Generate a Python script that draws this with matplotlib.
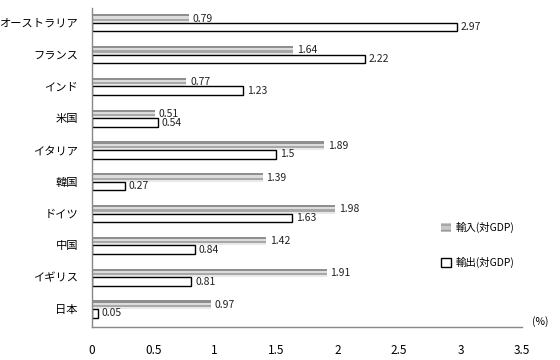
import numpy as np
import matplotlib.pyplot as plt
from matplotlib.patches import Patch

plt.rcParams['font.family'] = ['Noto Sans CJK JP', 'DejaVu Sans']

# donnees
pays = ['オーストラリア', 'フランス', 'インド', '米国', 'イタリア',
        '韓国', 'ドイツ', '中国', 'イギリス', '日本']
importations = [0.79, 1.64, 0.77, 0.51, 1.89, 1.39, 1.98, 1.42, 1.91, 0.97]
exportations = [2.97, 2.22, 1.23, 0.54, 1.5, 0.27, 1.63, 0.84, 0.81, 0.05]
ticks_x = [0, 0.5, 1, 1.5, 2, 2.5, 3, 3.5]

fig = plt.figure(figsize=(5.6, 3.6), dpi=100)
ax = fig.add_axes([0.164, 0.092, 0.768, 0.886])

y = np.arange(len(pays))
h = 0.27

# barres import : rayures grises
bandes = ['#8f8f8f', '#dcdcdc', '#a8a8a8', '#e8e8e8']
hb = h / len(bandes)
for k, col in enumerate(bandes):
    ax.barh(y - h + hb * (k + 0.5), importations, height=hb, color=col, linewidth=0)

# barres export : blanc contour noir
ax.barh(y + h / 2, exportations, height=h, facecolor='white', edgecolor='black', linewidth=1)

for i in range(len(pays)):
    ax.text(importations[i] + 0.03, y[i] - h / 2, str(importations[i]), va='center', ha='left', fontsize=7.5, color='#222222')
    ax.text(exportations[i] + 0.03, y[i] + h / 2, str(exportations[i]), va='center', ha='left', fontsize=7.5, color='#222222')

ax.set_ylim(9.56, -0.47)
ax.set_xlim(0, 3.5)
ax.set_yticks(y)
ax.set_yticklabels(pays, fontsize=8.1)
ax.set_xticks(ticks_x)
ax.set_xticklabels([str(t) for t in ticks_x], fontsize=8.5)
ax.tick_params(length=0, pad=10)
ax.tick_params(axis='x', pad=12)
for s in ['top', 'right']:
    ax.spines[s].set_visible(False)
for s in ['left', 'bottom']:
    ax.spines[s].set_color('#888888')
    ax.spines[s].set_linewidth(1)

fig.text(0.965, 0.092, '(%)', fontsize=7.5, ha='center', va='bottom')

poignees = [Patch(facecolor='#c8c8c8', edgecolor='#999999', hatch='---', linewidth=0),
            Patch(facecolor='white', edgecolor='black', linewidth=1)]
ax.legend(poignees, ['輸入(対GDP)', '輸出(対GDP)'], loc='center left',
          bbox_to_anchor=(0.79, 0.257), frameon=False, fontsize=7.5,
          labelspacing=2.3, handlelength=1.0, handleheight=1.0, handletextpad=0.4)

fig.savefig('out.png', dpi=100)
